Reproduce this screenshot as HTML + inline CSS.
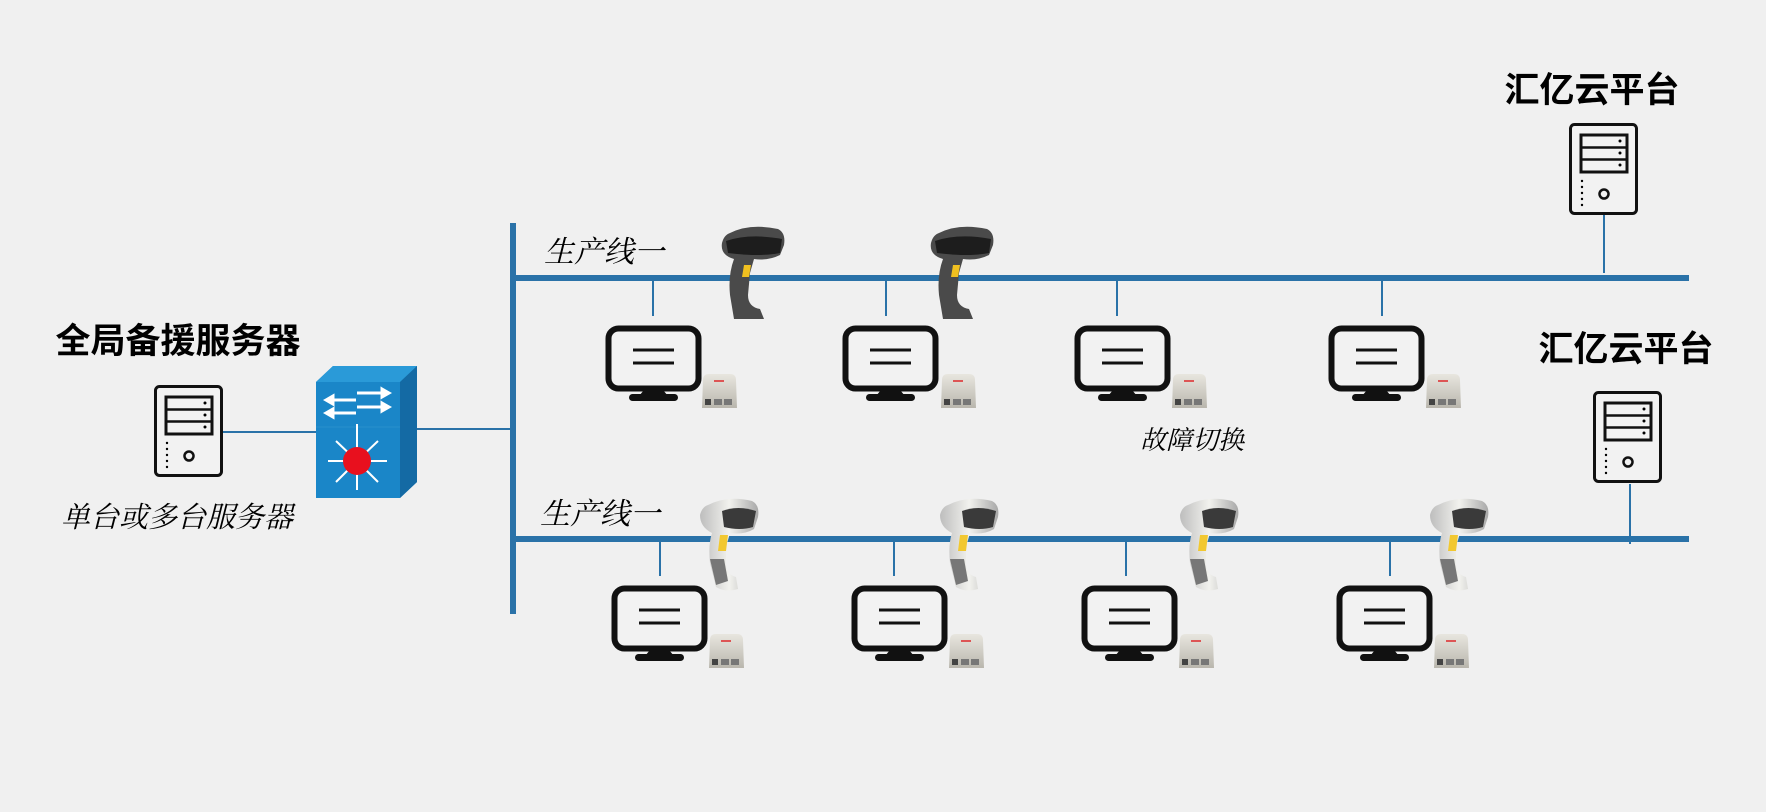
<!DOCTYPE html>
<html><head><meta charset="utf-8"><style>
html,body{margin:0;padding:0;background:#f0f0f0;}
svg{display:block}
text{font-family:"Liberation Serif","Noto Serif CJK SC","Noto Sans CJK SC",serif;fill:#000}
.b{font-family:"Liberation Sans","Noto Sans CJK SC",sans-serif;font-weight:bold}
</style></head><body>
<svg width="1766" height="812" viewBox="0 0 1766 812" xmlns="http://www.w3.org/2000/svg">
<defs>
<linearGradient id="bx" x1="0" y1="0" x2="0" y2="1"><stop offset="0" stop-color="#e8e6df"/><stop offset="1" stop-color="#b9b6ad"/></linearGradient>
<linearGradient id="wg" x1="0" y1="0" x2="1" y2="0"><stop offset="0" stop-color="#bdbdbd"/><stop offset=".5" stop-color="#f2f2ee"/><stop offset="1" stop-color="#a8a8a8"/></linearGradient>
<g id="mon">
<rect x="2.5" y="2.5" width="90" height="60" rx="10" fill="#f2f2f2" stroke="#111" stroke-width="6"/>
<line x1="27" y1="24" x2="68" y2="24" stroke="#111" stroke-width="3"/>
<line x1="27" y1="37" x2="68" y2="37" stroke="#111" stroke-width="3"/>
<path d="M38 64 L57 64 L62 70 L33 70 Z" fill="#111"/>
<rect x="23" y="68" width="49" height="7" rx="3.5" fill="#111"/>
</g>
<g id="box">
<path d="M3 6 Q3 0 9 0 L30 0 Q36 0 36 6 L37 34 L2 34 Z" fill="url(#bx)"/>
<rect x="14" y="6" width="10" height="2" fill="#d55"/>
<rect x="5" y="25" width="6" height="6" fill="#444"/>
<rect x="14" y="25" width="8" height="6" fill="#777"/>
<rect x="24" y="25" width="8" height="6" fill="#777"/>
</g>
<g id="srv">
<rect x="1.5" y="1.5" width="66" height="89" rx="4" fill="#f2f2f2" stroke="#111" stroke-width="3"/>
<rect x="12" y="12" width="46" height="37" fill="none" stroke="#111" stroke-width="3"/>
<line x1="12" y1="24.5" x2="58" y2="24.5" stroke="#111" stroke-width="2.5"/>
<line x1="12" y1="36.5" x2="58" y2="36.5" stroke="#111" stroke-width="2.5"/>
<circle cx="51" cy="18" r="1.5"/><circle cx="51" cy="30" r="1.5"/><circle cx="51" cy="42" r="1.5"/>
<circle cx="13" cy="58" r="1.2"/><circle cx="13" cy="64" r="1.2"/><circle cx="13" cy="70" r="1.2"/><circle cx="13" cy="76" r="1.2"/><circle cx="13" cy="82" r="1.2"/>
<circle cx="35" cy="71" r="4.5" fill="none" stroke="#111" stroke-width="2.5"/>
</g>
<g id="scb">
<path d="M10 8 Q30 -2 58 4 Q66 8 64 20 L60 30 Q48 36 34 34 L30 48 L28 70 Q28 82 40 84 L44 94 L14 94 L10 70 Q8 50 14 34 Q0 30 2 18 Q4 10 10 8 Z" fill="#4a4a4a"/>
<path d="M6 16 Q30 8 62 14 L60 28 Q40 32 8 28 Z" fill="#1d1d1d"/>
<path d="M24 40 L31 40 L29 52 L22 52 Z" fill="#f0c020"/>
</g>
<g id="scw">
<path d="M10 8 Q30 -2 54 4 Q62 8 60 20 L56 32 Q46 38 32 36 L28 50 L28 68 Q30 78 38 80 L40 92 Q28 96 18 90 L12 66 Q10 48 14 36 Q2 30 2 18 Q4 10 10 8 Z" fill="url(#wg)"/>
<path d="M24 14 Q40 8 58 14 L55 30 Q42 34 26 30 Z" fill="#3a3a3a"/>
<path d="M22 38 L30 38 L28 54 L20 54 Z" fill="#f2c830"/>
<path d="M12 62 L26 62 L30 84 L18 88 Z" fill="#777"/>
</g>
</defs>

<rect x="510" y="223" width="6" height="391" fill="#2a72a8"/>
<rect x="513" y="275" width="1176" height="6" fill="#2a72a8"/>
<rect x="513" y="536" width="1176" height="6" fill="#2a72a8"/>
<line x1="222" y1="432" x2="316" y2="432" stroke="#2a72a8" stroke-width="2"/>
<line x1="417" y1="429" x2="512" y2="429" stroke="#2a72a8" stroke-width="2"/>
<line x1="1604" y1="214" x2="1604" y2="273" stroke="#2a72a8" stroke-width="2"/>
<line x1="1630" y1="484" x2="1630" y2="544" stroke="#2a72a8" stroke-width="2"/>
<g stroke="#2a72a8" stroke-width="2">
<line x1="653" y1="280" x2="653" y2="316"/><line x1="886" y1="280" x2="886" y2="316"/>
<line x1="1117" y1="280" x2="1117" y2="316"/><line x1="1382" y1="280" x2="1382" y2="316"/>
<line x1="660" y1="541" x2="660" y2="576"/><line x1="894" y1="541" x2="894" y2="576"/>
<line x1="1126" y1="541" x2="1126" y2="576"/><line x1="1390" y1="541" x2="1390" y2="576"/>
</g>

<path d="M316 382 L333 366 L417 366 L417 482 L400 498 L316 498 Z" fill="#1a86c8"/>
<path d="M316 382 L333 366 L417 366 L400 382 Z" fill="#2a9ad8"/>
<path d="M400 382 L417 366 L417 482 L400 498 Z" fill="#146aa4"/>
<line x1="316" y1="427" x2="400" y2="427" stroke="#2890cc" stroke-width="1"/>
<g stroke="#fff" stroke-width="3" fill="#fff">
<line x1="357" y1="393" x2="385" y2="393"/><path d="M389 393 L382 389 L382 397Z"/>
<line x1="357" y1="407" x2="385" y2="407"/><path d="M389 407 L382 403 L382 411Z"/>
<line x1="330" y1="400" x2="356" y2="400"/><path d="M326 400 L333 396 L333 404Z"/>
<line x1="330" y1="413" x2="356" y2="413"/><path d="M326 413 L333 409 L333 417Z"/>
<g stroke-width="2">
<line x1="357" y1="461" x2="357" y2="424"/><line x1="357" y1="461" x2="357" y2="490"/>
<line x1="357" y1="461" x2="328" y2="461"/><line x1="357" y1="461" x2="387" y2="461"/>
<line x1="357" y1="461" x2="336" y2="441"/><line x1="357" y1="461" x2="378" y2="441"/>
<line x1="357" y1="461" x2="336" y2="482"/><line x1="357" y1="461" x2="378" y2="482"/>
</g></g>
<circle cx="357" cy="461" r="14" fill="#e8101e"/>

<use href="#srv" x="154" y="385"/>
<use href="#srv" x="1569" y="123"/>
<use href="#srv" x="1593" y="391"/>

<use href="#mon" x="606" y="326"/><use href="#box" x="700" y="374"/>
<use href="#mon" x="843" y="326"/><use href="#box" x="939" y="374"/>
<use href="#mon" x="1075" y="326"/><use href="#box" x="1170" y="374"/>
<use href="#mon" x="1329" y="326"/><use href="#box" x="1424" y="374"/>
<use href="#mon" x="612" y="586"/><use href="#box" x="707" y="634"/>
<use href="#mon" x="852" y="586"/><use href="#box" x="947" y="634"/>
<use href="#mon" x="1082" y="586"/><use href="#box" x="1177" y="634"/>
<use href="#mon" x="1337" y="586"/><use href="#box" x="1432" y="634"/>

<use href="#scb" x="720" y="225"/>
<use href="#scb" x="929" y="225"/>
<use href="#scw" x="698" y="497"/>
<use href="#scw" x="938" y="497"/>
<use href="#scw" x="1178" y="497"/>
<use href="#scw" x="1428" y="497"/>

<text class="b" x="178" y="353" font-size="35" text-anchor="middle">全局备援服务器</text>
<text x="177" y="527" font-size="29" font-style="italic" text-anchor="middle">单台或多台服务器</text>
<text class="b" x="1592" y="102" font-size="35" text-anchor="middle">汇亿云平台</text>
<text class="b" x="1626" y="361" font-size="35" text-anchor="middle">汇亿云平台</text>
<text x="544" y="262" font-size="30" font-style="italic">生产线一</text>
<text x="540" y="524" font-size="30" font-style="italic">生产线一</text>
<text x="1192" y="449" font-size="26" font-style="italic" text-anchor="middle">故障切换</text>
</svg>
</body></html>
